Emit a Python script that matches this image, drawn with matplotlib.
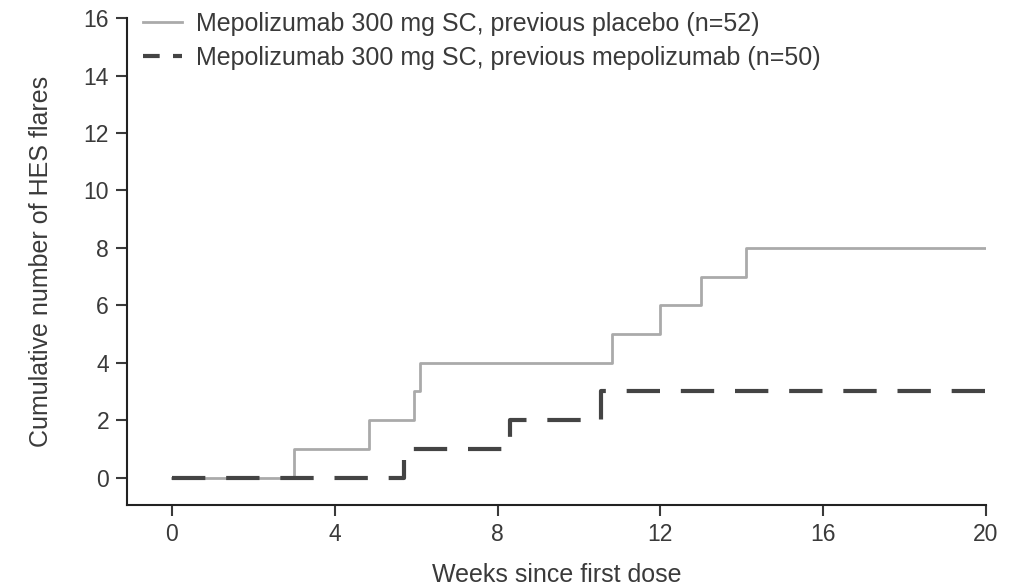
import matplotlib
matplotlib.use("Agg")
import matplotlib.pyplot as plt
from matplotlib.lines import Line2D

plt.rcParams['font.family'] = ['Liberation Sans', 'DejaVu Sans']

# event times (weeks) and cumulative flare counts, step after each event
placebo_weeks = [0, 3.0, 4.85, 5.95, 6.1, 10.8, 12.0, 13.0, 14.1, 20]
placebo_flares = [0, 1, 2, 3, 4, 5, 6, 7, 8, 8]
mepo_weeks = [0, 5.7, 8.3, 10.55, 20]
mepo_flares = [0, 1, 2, 3, 3]

placebo_label = 'Mepolizumab 300 mg SC, previous placebo (n=52)'
mepo_label = 'Mepolizumab 300 mg SC, previous mepolizumab (n=50)'
x_ticks = [0, 4, 8, 12, 16, 20]
y_ticks = [0, 2, 4, 6, 8, 10, 12, 14, 16]

light = '#aaaaaa'
dark = '#444444'
text_col = '#3a3a3a'

fig = plt.figure(figsize=(10.25, 5.87), dpi=100)
ax = fig.add_axes([0.124, 0.14, 0.838, 0.829])

ax.step(placebo_weeks, placebo_flares, where='post', color=light, lw=2)
ax.step(mepo_weeks, mepo_flares, where='post', color=dark, lw=3,
        dashes=(8, 5))

ax.set_xlim(-1.1, 20)
ax.set_ylim(-0.95, 16)
ax.set_xticks(x_ticks)
ax.set_yticks(y_ticks)
ax.spines['top'].set_visible(False)
ax.spines['right'].set_visible(False)
for s in ('left', 'bottom'):
    ax.spines[s].set_color('#222222')
    ax.spines[s].set_linewidth(1.5)
ax.tick_params(axis='both', labelsize=16.5, colors=text_col, length=8,
               width=1.5, pad=5)

ax.set_xlabel('Weeks since first dose', fontsize=18, color=text_col,
              labelpad=12)
ax.set_ylabel('Cumulative number of HES flares', fontsize=18,
              color=text_col, labelpad=22)

# legend with short handles
handles = [Line2D([], [], color=light, lw=2),
           Line2D([], [], color=dark, lw=3, dashes=(4, 3.2))]
leg = fig.legend(handles, [placebo_label, mepo_label], loc='upper left',
                 bbox_to_anchor=(143 / 1025, 1 - 12 / 587), frameon=False,
                 fontsize=18, handlelength=1.55, handletextpad=0.55,
                 labelspacing=0.4, borderpad=0, borderaxespad=0)
for t in leg.get_texts():
    t.set_color(text_col)

fig.savefig('out.png', dpi=100)
